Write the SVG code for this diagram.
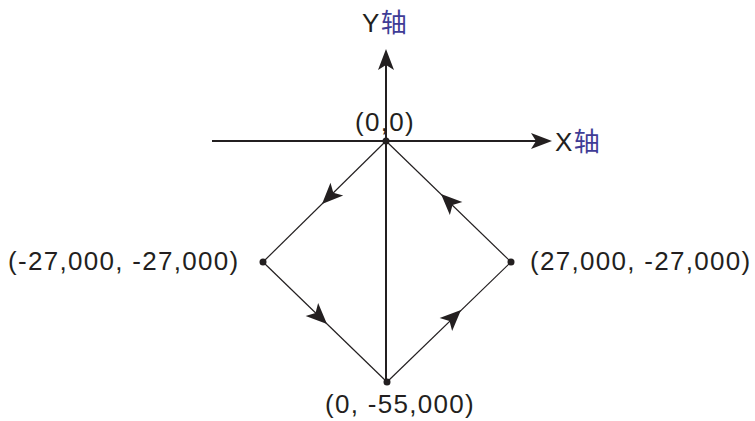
<svg xmlns="http://www.w3.org/2000/svg" width="755" height="421" viewBox="0 0 755 421">
<style>
.t{font-family:"Liberation Sans","Noto Sans CJK SC",sans-serif;font-size:26px;fill:#231f20;letter-spacing:1.3px}
.cn{fill:#3f3c96}
.ax{stroke:#231f20;stroke-width:2;fill:none}
.dl{stroke:#231f20;stroke-width:1.2;fill:none}
.ah{fill:#231f20}
</style>
<defs>
<path id="arr" d="M0,0 L-21,-9 L-16,0 L-21,9 Z"/>
</defs>
<g id="connectors">
<line class="ax" x1="386" y1="381" x2="386" y2="64"/>
<path class="ah" d="M386,49 L378,70 L386,65 L394,70 Z"/>
<line class="ax" x1="212" y1="141" x2="536" y2="141"/>
<path class="ah" d="M552,141 L531,133 L536,141 L531,149 Z"/>
<line class="dl" x1="386" y1="141" x2="263" y2="262"/>
<line class="dl" x1="263" y1="262" x2="387" y2="382"/>
<line class="dl" x1="387" y1="382" x2="511" y2="262"/>
<line class="dl" x1="511" y1="262" x2="386" y2="141"/>
<use href="#arr" class="ah" transform="translate(322,204) rotate(135)"/>
<use href="#arr" class="ah" transform="translate(327,324) rotate(44)"/>
<use href="#arr" class="ah" transform="translate(461,310) rotate(-44)"/>
<use href="#arr" class="ah" transform="translate(441,194) rotate(-136)"/>
</g>
<g id="y-axis-label"><text class="t" x="362" y="32">Y<tspan class="cn">轴</tspan></text></g>
<g id="x-axis-label"><text class="t" x="555" y="151">X<tspan class="cn">轴</tspan></text></g>
<g id="origin"><circle cx="386" cy="141" r="3.5" fill="#231f20"/><text class="t" x="355" y="131">(0,0)</text></g>
<g id="left"><circle cx="263" cy="262" r="3.5" fill="#231f20"/><text class="t" x="8" y="270">(-27,000, -27,000)</text></g>
<g id="right"><circle cx="511" cy="262" r="3.5" fill="#231f20"/><text class="t" x="530" y="270">(27,000, -27,000)</text></g>
<g id="bottom"><circle cx="387" cy="382" r="3.5" fill="#231f20"/><text class="t" x="325" y="413">(0, -55,000)</text></g>
</svg>
